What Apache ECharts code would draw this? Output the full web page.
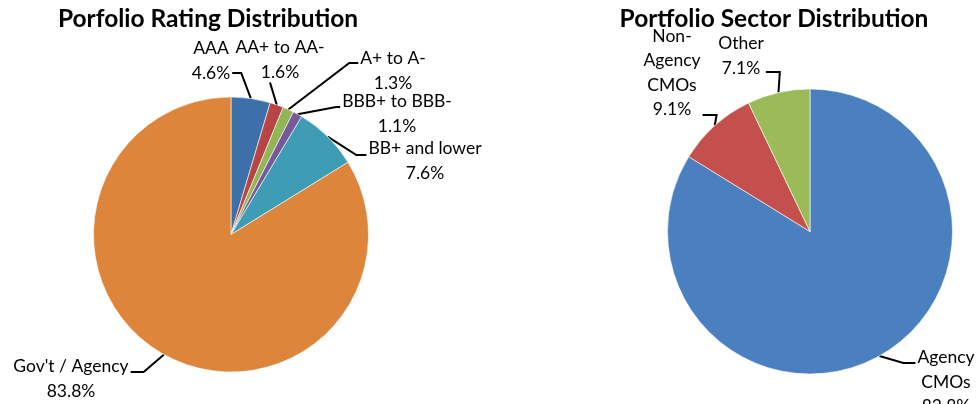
<!DOCTYPE html>
<html>
<head>
<meta charset="utf-8">
<script src="https://cdn.jsdelivr.net/npm/echarts@6/dist/echarts.min.js"></script>
<style>
html,body{margin:0;padding:0;background:#fff;}
#c{width:976px;height:404px;}
</style>
</head>
<body>
<div id="c"></div>
<script>
// ---- data ----
const ratingCategories = ['AAA', 'AA+ to AA-', 'A+ to A-', 'BBB+ to BBB-', 'BB+ and lower', "Gov't / Agency"];
const ratingValues = [4.6, 1.6, 1.3, 1.1, 7.6, 83.8];
const sectorCategories = ['Agency\nCMOs', 'Non-\nAgency\nCMOs', 'Other'];
const sectorValues = [83.8, 9.1, 7.1];

// ---- styling / layout ----
const ratingColors = ['#3D6FA8', '#B74543', '#93B556', '#76599A', '#3E9DB4', '#DC853B'];
const sectorColors = ['#4A80C0', '#C4504E', '#9BBB59'];
// label centres
const ratingLabelPos = [[211, 61], [280, 60], [393, 71], [397, 114], [425, 161], [71, 379]];
const sectorLabelPos = [[946, 382], [672, 73], [741, 56]];
// how the leader line meets the label: [side, dy from label centre, horizontal run]
const ratingAttach = [['r', 12, 9], ['b', 0, 0], ['l', -8, 9], ['l', -7, 4], ['l', -6, 10], ['r', -7, 13]];
const sectorAttach = [['l', -19, 12], ['r', 42, 14], ['r', 16, 14]];
const FONT = 'Lato';

function mk(names, vals, colors) {
  return names.map((n, i) => ({ name: n, value: vals[i], itemStyle: { color: colors[i] } }));
}

function layoutFor(posArr, attachArr) {
  return function (p) {
    const pos = posArr[p.dataIndex];
    const a = attachArr[p.dataIndex];
    const w = p.labelRect.width, h = p.labelRect.height;
    const left = pos[0] - w / 2, right = pos[0] + w / 2, bottom = pos[1] + h / 2;
    const out = { x: pos[0], y: pos[1], align: 'center', verticalAlign: 'middle' };
    if (p.labelLinePoints && p.labelLinePoints.length) {
      const edge = p.labelLinePoints[0];
      let pts;
      if (a[0] === 'r') {
        const ay = pos[1] + a[1];
        pts = [edge, [right + 2 + a[2], ay], [right + 2, ay]];
      } else if (a[0] === 'l') {
        const ay = pos[1] + a[1];
        pts = [edge, [left - 2 - a[2], ay], [left - 2, ay]];
      } else {
        pts = [edge, [pos[0] - 10, bottom - 2]];
      }
      out.labelLinePoints = pts;
    }
    return out;
  };
}

const chart = echarts.init(document.getElementById('c'), null, { renderer: 'canvas' });
const labelCommon = {
  show: true,
  formatter: p => p.name + '\n' + p.value.toFixed(1) + '%',
  fontFamily: FONT,
  fontSize: 17.5,
  lineHeight: 24.5,
  color: '#000',
  align: 'center'
};
const titleStyle = { fontFamily: FONT, fontWeight: 'bold', fontSize: 24.5, color: '#000' };
chart.setOption({
  animation: false,
  title: [
    { text: 'Porfolio Rating Distribution', left: 203, top: 2, textAlign: 'center', textStyle: titleStyle },
    { text: 'Portfolio Sector Distribution', left: 769, top: 2, textAlign: 'center', textStyle: titleStyle }
  ],
  series: [
    {
      type: 'pie',
      center: [231, 234.5],
      radius: [0, 137.5],
      startAngle: 90,
      clockwise: true,
      avoidLabelOverlap: false,
      itemStyle: { borderColor: '#fff', borderWidth: 0.6 },
      label: labelCommon,
      labelLine: { show: true, lineStyle: { color: '#000', width: 2 }, length: 10, length2: 8 },
      labelLayout: layoutFor(ratingLabelPos, ratingAttach),
      emphasis: { disabled: true },
      data: mk(ratingCategories, ratingValues, ratingColors)
    },
    {
      type: 'pie',
      center: [810, 231.5],
      radius: [0, 142.5],
      startAngle: 90,
      clockwise: true,
      avoidLabelOverlap: false,
      itemStyle: { borderColor: '#fff', borderWidth: 0.6 },
      label: labelCommon,
      labelLine: { show: true, lineStyle: { color: '#000', width: 2 }, length: 10, length2: 8 },
      labelLayout: layoutFor(sectorLabelPos, sectorAttach),
      emphasis: { disabled: true },
      data: mk(sectorCategories, sectorValues, sectorColors)
    }
  ]
});
</script>
</body>
</html>
